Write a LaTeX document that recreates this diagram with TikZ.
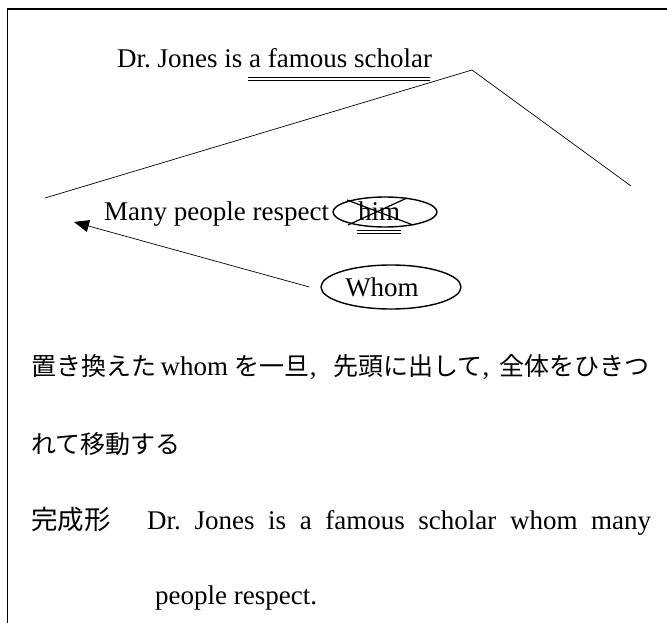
\documentclass[tikz,border=0pt]{standalone}
\usepackage{fontspec}
\setmainfont{Liberation Serif}
\newfontfamily\jp{Noto Sans CJK JP}
\usetikzlibrary{arrows.meta,shapes.geometric}
\frenchspacing
\newcommand{\jpt}[1]{{\jp\fontsize{25}{30}\selectfont #1}}
\begin{document}
\begin{tikzpicture}[x=1pt,y=-1pt,
  txt/.style={inner sep=0pt,anchor=base west,font=\fontsize{27}{30}\selectfont},
  jptxt/.style={inner sep=0pt,anchor=base west,font=\fontsize{27}{30}\selectfont},
  oval/.style={draw,ellipse,line width=1.4pt,inner sep=0pt},
  thin/.style={line width=0.7pt},
  uline/.style={line width=0.9pt}]
\useasboundingbox (0,0) rectangle (667,623);
% frame
\draw[line width=1.6pt] (667,9) -- (7.5,9) -- (7.5,623);
% top sentence
\node[txt] (top) at (117,68) {Dr. Jones is a famous scholar};
\draw[uline] (248,77) -- (430,77);
\draw[uline] (248,80) -- (430,80);
% bracket lines
\coordinate (la) at (45,198);
\coordinate (lb) at (472,70);
\coordinate (lc) at (631,186);
\draw[thin] (la) -- (lb) -- (lc);
% relative clause
\node[txt] (many) at (104,220) {Many people respect};
\node[txt] (him) at (358,220) {him};
\node[oval,minimum width=104pt,minimum height=30pt] (himo) at (385,212) {};
\draw[line width=1.2pt] (347,200) -- (413,225);
\draw[line width=1.2pt] (407,198) -- (348,225);
\draw[uline] (357,230) -- (401,230);
\draw[uline] (357,233) -- (401,233);
% whom
\node[oval,minimum width=140pt,minimum height=44pt,font=\fontsize{27}{30}\selectfont] (whom) at (391,287) {Whom\kern18pt\relax};
\coordinate (tip) at (74,222);
\draw[thin,-{Triangle[length=15pt,width=12pt]}] ([xshift=-11pt]whom.west) -- (tip);
% explanation
\node[jptxt] (jp1) at (31,375) {\jpt{置き換えた}\,whom \jpt{を一旦},\hspace{10pt} \jpt{先頭に出して},\hspace{3pt} \jpt{全体をひきつ}};
\node[jptxt] (jp2) at (31,453) {\jpt{れて移動する}};
\node[jptxt] (f1) at (31,529) {{\jp\fontsize{26.5}{30}\selectfont 完成形}};
\node[txt] (f2) at (147,529) {\makebox[504pt][s]{Dr. Jones is a famous scholar whom many}};
\node[txt] (f3) at (155,604) {people respect.};
\end{tikzpicture}
\end{document}
